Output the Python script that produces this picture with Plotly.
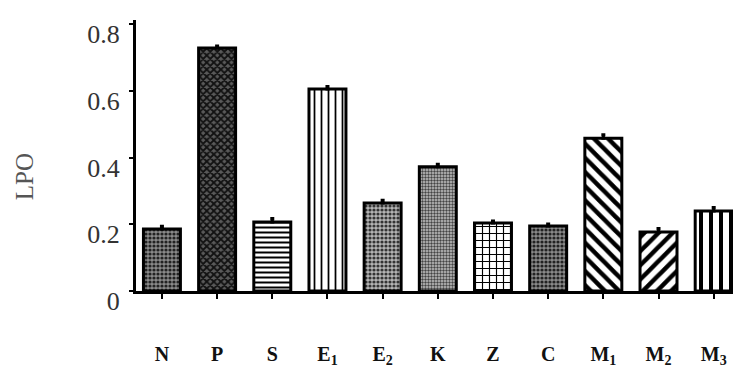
import plotly.graph_objects as go

# Lipid peroxidation (LPO) by treatment group
groups = ["N", "P", "S", "E1", "E2", "K", "Z", "C", "M1", "M2", "M3"]
group_labels = ["N", "P", "S", "E<sub>1</sub>", "E<sub>2</sub>", "K", "Z", "C",
                "M<sub>1</sub>", "M<sub>2</sub>", "M<sub>3</sub>"]
lpo = [0.186, 0.728, 0.207, 0.605, 0.264, 0.372, 0.204, 0.195, 0.458, 0.177, 0.240]
lpo_err = [0.008, 0.006, 0.010, 0.008, 0.008, 0.008, 0.006, 0.006, 0.010, 0.010, 0.010]
y_ticks = [0, 0.2, 0.4, 0.6, 0.8]
y_tick_labels = ["0", "0.2", "0.4", "0.6", "0.8"]
y_title = "LPO"

# fill pattern for each bar
shapes = [".", "x", "-", "|", ".", ".", "+", ".", "\\", "/", "|"]
fg = ["#222", "#111", "#000", "#000", "#333", "#444", "#000", "#222", "#000", "#000", "#000"]
bg = ["#8a8a8a", "#5a5a5a", "#fff", "#fff", "#b5b5b5", "#c4c4c4", "#fff", "#8a8a8a", "#fff", "#fff", "#fff"]
psize = [4, 5, 5, 7, 4, 3, 7, 4, 10, 10, 10]
solid = [0.5, 0.6, 0.4, 0.25, 0.5, 0.5, 0.3, 0.5, 0.45, 0.45, 0.4]

fig = go.Figure(go.Bar(
    x=list(range(len(groups))),
    y=lpo,
    width=0.67,
    marker=dict(
        color="white",
        line=dict(color="black", width=3),
        pattern=dict(shape=shapes, fgcolor=fg, bgcolor=bg, size=psize,
                     solidity=solid, fillmode="replace"),
    ),
    error_y=dict(type="data", array=lpo_err, symmetric=False, arrayminus=[0] * len(groups),
                 color="black", thickness=3, width=2),
))

serif = "Liberation Serif"

# rotated y-axis label, placed left of the tick labels
fig.add_annotation(
    text=y_title, textangle=-90,
    xref="paper", yref="paper", x=0, y=0.42, xshift=-112,
    xanchor="center", yanchor="middle", showarrow=False,
    font=dict(family=serif, size=25, color="#555"),
)

fig.update_layout(
    width=733, height=367,
    margin=dict(l=136, r=0, t=20, b=76),
    paper_bgcolor="white", plot_bgcolor="white",
    showlegend=False,
    xaxis=dict(
        range=[-0.47, 10.35],
        tickmode="array",
        tickvals=list(range(len(groups))),
        ticktext=group_labels,
        tickfont=dict(family=serif, size=20, color="#111", weight="bold"),
        ticks="outside", ticklen=5, tickwidth=2, tickcolor="black",
        ticklabelstandoff=38,
        showline=True, linecolor="black", linewidth=3,
        showgrid=False, zeroline=False,
    ),
    yaxis=dict(
        range=[0, 0.812],
        tickmode="array",
        tickvals=y_ticks,
        ticktext=y_tick_labels,
        tickfont=dict(family=serif, size=26, color="#333"),
        ticks="outside", ticklen=4, tickwidth=2, tickcolor="black",
        ticklabelstandoff=4,
        ticklabelshift=10,
        showline=True, linecolor="black", linewidth=3,
        showgrid=False, zeroline=False,
    ),
)

fig.write_html("out.html")
